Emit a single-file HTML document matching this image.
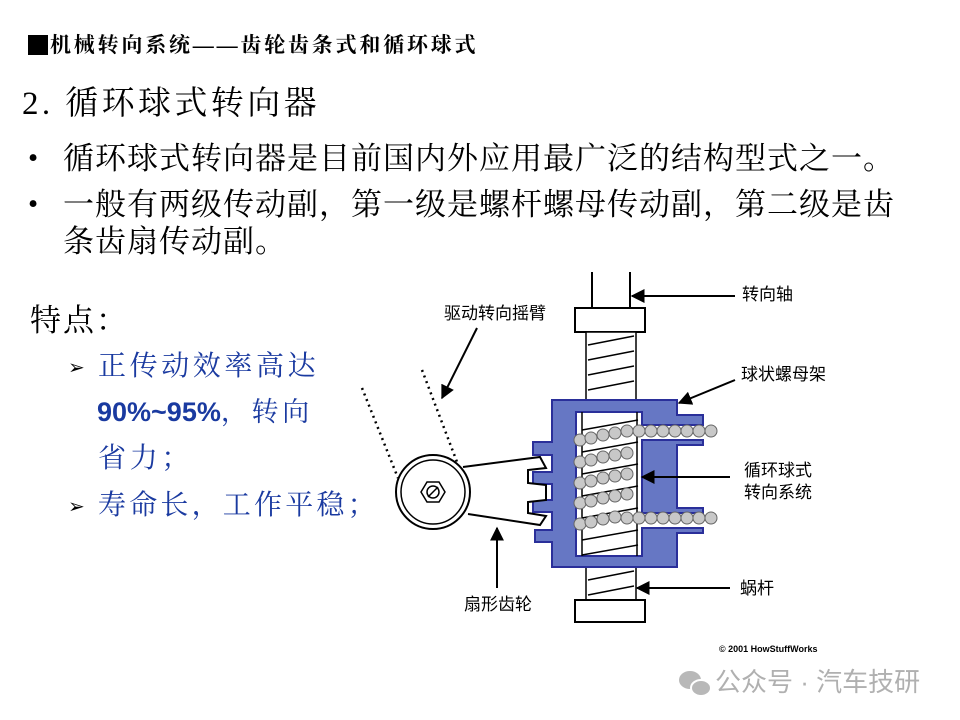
<!DOCTYPE html>
<html><head><meta charset="utf-8"><style>
body{margin:0;width:960px;height:720px;background:#fff;position:relative;overflow:hidden;font-family:"Liberation Serif","Noto Serif CJK SC",serif;}
.t{position:absolute;white-space:nowrap;line-height:1;}
.s{font-family:"Liberation Sans","Noto Sans CJK SC",sans-serif;}
</style></head><body>
<div class="t" style="left:28px;top:35px;font-size:21px;letter-spacing:2.8px;font-weight:bold;"><span style="display:inline-block;width:20px;height:20px;background:#000;vertical-align:-3px;margin-right:2px"></span>机械转向系统——齿轮齿条式和循环球式</div>
<div class="t" style="left:22px;top:88px;font-size:33px;letter-spacing:3.4px;">2. 循环球式转向器</div>
<div class="t" style="left:28px;top:144px;font-size:29px;">•</div>
<div class="t" style="left:63px;top:143px;font-size:31px;letter-spacing:1px;">循环球式转向器是目前国内外应用最广泛的结构型式之一。</div>
<div class="t" style="left:28px;top:190px;font-size:29px;">•</div>
<div class="t" style="left:63px;top:189px;font-size:31px;letter-spacing:1px;">一般有两级传动副，第一级是螺杆螺母传动副，第二级是齿</div>
<div class="t" style="left:63px;top:226px;font-size:31px;letter-spacing:1px;">条齿扇传动副。</div>
<div class="t" style="left:30px;top:305px;font-size:31px;letter-spacing:2px;">特点：</div>
<div class="t" style="left:68px;top:358px;font-size:20px;">➢</div>
<div class="t" style="left:98px;top:353px;font-size:28px;letter-spacing:3.6px;color:#1a3aa0;">正传动效率高达</div>
<div class="t s" style="left:97px;top:399px;font-size:27px;color:#1a3aa0;font-weight:bold;">90%~95%<span style="font-family:'Liberation Serif','Noto Serif CJK SC',serif;font-weight:normal;letter-spacing:3.7px">，转向</span></div>
<div class="t" style="left:98px;top:445px;font-size:28px;letter-spacing:3.7px;color:#1a3aa0;">省力；</div>
<div class="t" style="left:68px;top:497px;font-size:20px;">➢</div>
<div class="t" style="left:98px;top:492px;font-size:28px;letter-spacing:3.2px;color:#1a3aa0;">寿命长，工作平稳；</div>

<svg style="position:absolute;left:0;top:0" width="960" height="720">
<defs><marker id="a" viewBox="0 0 10 10" refX="9" refY="5" markerWidth="7" markerHeight="7" orient="auto"><path d="M0,0L10,5L0,10z" fill="#000"/></marker></defs>
<line x1="592" y1="272" x2="592" y2="308" stroke="#000" stroke-width="2"/>
<line x1="630" y1="272" x2="630" y2="308" stroke="#000" stroke-width="2"/>
<rect x="575" y="308" width="70" height="24" fill="#fff" stroke="#000" stroke-width="2"/>
<rect x="586" y="332" width="50" height="70" fill="#fff" stroke="#000" stroke-width="1.5"/>
<g stroke="#000" stroke-width="1.5" fill="none">
<path d="M588,345L634,336M588,360L634,351M588,375L634,366M588,390L634,381"/>
</g>
<rect x="586" y="566" width="50" height="34" fill="#fff" stroke="#000" stroke-width="1.5"/>
<path d="M588,580L634,571M588,595L634,586" stroke="#000" stroke-width="1.5"/>
<rect x="575" y="600" width="70" height="22" fill="#fff" stroke="#000" stroke-width="2"/>
<g fill="#6677c4" stroke="#2a2f9a" stroke-width="2">
<path d="M552,400H677V415H703V425H642V440H703V445H677V508H703V513H642V528H703V533H677V567H552V542H535V530H552V512H533V500H552V484H533V472H552V455H533V442H552Z"/>
</g>
<rect x="576" y="412" width="66" height="144" fill="#fff" stroke="#2a2f9a" stroke-width="2"/>
<rect x="640" y="426" width="64" height="13" fill="#fff"/>
<rect x="640" y="514" width="64" height="13" fill="#fff"/>
<g stroke="#000" stroke-width="1.5">
<path d="M582,430L638,420M582,452L638,442M582,474L638,464M582,496L638,486M582,518L638,508M582,540L638,530M582,555L638,545"/>
<line x1="582" y1="412" x2="582" y2="556"/><line x1="637" y1="412" x2="637" y2="556"/>
</g>
<g fill="#c8c8c8" stroke="#666" stroke-width="1">
<circle cx="580" cy="440" r="6"/><circle cx="591" cy="438" r="6"/><circle cx="603" cy="435" r="6"/><circle cx="615" cy="433" r="6"/><circle cx="627" cy="431" r="6"/><circle cx="639" cy="431" r="6"/><circle cx="651" cy="431" r="6"/><circle cx="663" cy="431" r="6"/><circle cx="675" cy="431" r="6"/><circle cx="687" cy="431" r="6"/><circle cx="699" cy="431" r="6"/><circle cx="711" cy="431" r="6"/>
<circle cx="580" cy="462" r="6"/><circle cx="591" cy="460" r="6"/><circle cx="603" cy="457" r="6"/><circle cx="615" cy="455" r="6"/><circle cx="627" cy="453" r="6"/>
<circle cx="580" cy="483" r="6"/><circle cx="591" cy="481" r="6"/><circle cx="603" cy="478" r="6"/><circle cx="615" cy="476" r="6"/><circle cx="627" cy="474" r="6"/>
<circle cx="580" cy="503" r="6"/><circle cx="591" cy="501" r="6"/><circle cx="603" cy="498" r="6"/><circle cx="615" cy="496" r="6"/><circle cx="627" cy="494" r="6"/>
<circle cx="580" cy="524" r="6"/><circle cx="591" cy="522" r="6"/><circle cx="603" cy="519" r="6"/><circle cx="615" cy="517" r="6"/><circle cx="627" cy="518" r="6"/><circle cx="639" cy="518" r="6"/><circle cx="651" cy="518" r="6"/><circle cx="663" cy="518" r="6"/><circle cx="675" cy="518" r="6"/><circle cx="687" cy="518" r="6"/><circle cx="699" cy="518" r="6"/><circle cx="711" cy="518" r="6"/>
</g>
<path d="M463,467L540,457L546,468L528,470L528,483L546,485L546,500L528,502L528,513L546,516L540,525L468,514" fill="#fff" stroke="#000" stroke-width="2"/>
<circle cx="433" cy="492" r="37" fill="#fff" stroke="#000" stroke-width="2"/>
<circle cx="433" cy="492" r="32" fill="none" stroke="#000" stroke-width="1.5"/>
<polygon points="445,492 439,502 427,502 421,492 427,482 439,482" fill="#fff" stroke="#000" stroke-width="1.5"/>
<circle cx="433" cy="492" r="6" fill="#fff" stroke="#000" stroke-width="1.5"/>
<line x1="428" y1="497" x2="438" y2="487" stroke="#000" stroke-width="1.5"/>
<g stroke="#000" stroke-width="2.5" stroke-dasharray="2,4">
<line x1="422" y1="370" x2="457" y2="462"/><line x1="362" y1="388" x2="398" y2="478"/>
</g>
<g stroke="#000" stroke-width="2" fill="none" marker-end="url(#a)">
<line x1="735" y1="296" x2="632" y2="296"/>
<line x1="735" y1="380" x2="679" y2="403"/>
<line x1="730" y1="477" x2="642" y2="477"/>
<line x1="730" y1="588" x2="637" y2="588"/>
<line x1="477" y1="328" x2="442" y2="398"/>
<line x1="497" y1="588" x2="497" y2="528"/>
</g>
<g fill="#b8b8b8">
<ellipse cx="690" cy="680" rx="11" ry="9"/>
<ellipse cx="701" cy="688" rx="10" ry="8" stroke="#fff" stroke-width="2"/>
</g>
</svg>
<div class="t s" style="left:742px;top:286px;font-size:17px;">转向轴</div>
<div class="t s" style="left:741px;top:366px;font-size:17px;">球状螺母架</div>
<div class="t s" style="left:744px;top:462px;font-size:17px;">循环球式</div>
<div class="t s" style="left:744px;top:484px;font-size:17px;">转向系统</div>
<div class="t s" style="left:740px;top:580px;font-size:17px;">蜗杆</div>
<div class="t s" style="left:444px;top:305px;font-size:17px;">驱动转向摇臂</div>
<div class="t s" style="left:464px;top:596px;font-size:17px;">扇形齿轮</div>
<div class="t s" style="left:719px;top:645px;font-size:9px;font-weight:bold;">© 2001 HowStuffWorks</div>
<div class="t s" style="left:715px;top:669px;font-size:26px;color:#b0b0b0;">公众号 · 汽车技研</div>
</body></html>
